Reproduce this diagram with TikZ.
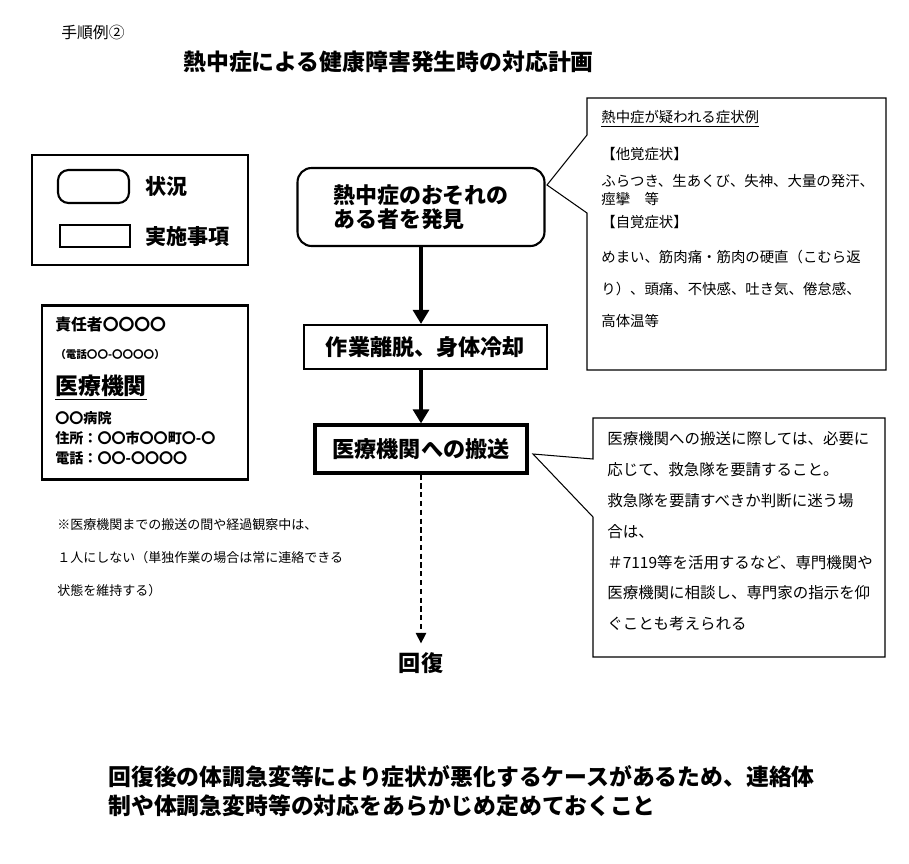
\documentclass[tikz,border=0pt]{standalone}
\usepackage{fontspec}
\setmainfont{Noto Sans CJK JP}
\usetikzlibrary{arrows.meta,positioning}
\tikzset{
  situation/.style={draw,line width=1.2pt,rounded corners=8pt,minimum width=4.94cm,minimum height=1.56cm,align=left,font=\bfseries\fontsize{12.5}{13.6}\selectfont},
  action/.style={draw,line width=1.2pt,minimum height=0.88cm,font=\bfseries\fontsize{12.6}{14}\selectfont},
  flow/.style={line width=2.8pt,-{Triangle[width=9pt,length=8pt]}},
  plain/.style={anchor=west,align=left,inner sep=0pt},
  balloon/.style={line width=0.6pt,line join=miter},
}
\begin{document}
\begin{tikzpicture}[x=0.02cm,y=-0.02cm]
  \useasboundingbox (0,0) rectangle (909,863);
  % headings
  \node[plain,font=\fontsize{9}{11}\selectfont] (step) at (61,32) {手順例②};
  \node[plain,font=\bfseries\fontsize{13}{15}\selectfont] (title) at (183,62) {熱中症による健康障害発生時の対応計画};
  % legend
  \draw[line width=0.7pt] (32,155) rectangle (248,265);
  \node[draw,line width=1.2pt,rounded corners=6pt,minimum width=1.42cm,minimum height=0.66cm] (keysit) at (93.5,186.5) {};
  \node[draw,line width=1.2pt,minimum width=1.4cm,minimum height=0.44cm] (keyact) at (95,236) {};
  \node[plain,font=\bfseries\fontsize{12}{14}\selectfont] (keysittxt) at (145,186) {状況};
  \node[plain,font=\bfseries\fontsize{12}{14}\selectfont] (keyacttxt) at (145,236) {実施事項};
  % contacts
  \draw[line width=1.7pt] (42,305) rectangle (248,479);
  \node[plain,font=\bfseries\fontsize{9}{11}\selectfont] (boss) at (55,325) {責任者〇〇〇〇};
  \node[plain,font=\bfseries\fontsize{6}{8}\selectfont] (bosstel) at (55,354) {（電話〇〇-〇〇〇〇）};
  \node[plain,font=\bfseries\fontsize{13}{15}\selectfont] (clinic) at (55,388) {\underline{医療機関}};
  \node[plain,font=\bfseries\fontsize{8}{10}\selectfont] (hosp) at (55,418) {〇〇病院};
  \node[plain,font=\bfseries\fontsize{8}{10}\selectfont] (addr) at (55,438) {住所：〇〇市〇〇町〇-〇};
  \node[plain,font=\bfseries\fontsize{8}{10}\selectfont] (tel) at (55,458) {電話：〇〇-〇〇〇〇};
  % caution
  \node[plain,font=\fontsize{7.4}{18.7}\selectfont] (caution) at (57,558) {※医療機関までの搬送の間や経過観察中は、\\１人にしない（単独作業の場合は常に連絡できる\\状態を維持する）};
  % flow
  \node[situation] (find) at (421,207) {熱中症のおそれの\\ある者を発見};
  \node[action,minimum width=4.86cm] (cool) at (425.5,347) {作業離脱、身体冷却};
  \node[action,line width=1.8pt,minimum width=4.24cm,minimum height=0.96cm] (send) at (421,449) {医療機関への搬送};
  \node[font=\bfseries\fontsize{12.6}{14}\selectfont,inner sep=5pt] (recover) at (421,663) {回復};
  \draw[flow] (find.south) -- (find.south |- cool.north);
  \draw[flow] (send.north |- cool.south) -- (send.north);
  \draw[dash pattern=on 3pt off 2pt,line width=0.8pt,-{Triangle[width=6pt,length=6pt]}] (send.south) -- (recover.north);
  % symptoms balloon
  \draw[balloon] (587,98) -- (886,98) -- (886,370) -- (587,370) -- (587,213) -- (547,185) -- (587,135) -- cycle;
  \node[plain,anchor=north west,font=\fontsize{8.2}{10.2}\selectfont] (signs) at (601,110) {\underline{熱中症が疑われる症状例}\\[10.8pt]【他覚症状】\\[5.2pt]ふらつき、生あくび、失神、大量の発汗、\\痙攣　等\\[2.9pt]【自覚症状】\\[9.7pt]めまい、筋肉痛・筋肉の硬直（こむら返\\[8pt]り）、頭痛、不快感、吐き気、倦怠感、\\[8pt]高体温等};
  % transport balloon
  \draw[balloon] (593,418) -- (885,418) -- (885,657) -- (593,657) -- (593,517) -- (533,454) -- (593,459) -- cycle;
  \node[plain,anchor=north west,font=\fontsize{8.8}{17.6}\selectfont] (advice) at (607,431) {医療機関への搬送に際しては、必要に\\応じて、救急隊を要請すること。\\救急隊を要請すべきか判断に迷う場\\合は、\\＃7119等を活用するなど、専門機関や\\医療機関に相談し、専門家の指示を仰\\ぐことも考えられる};
  % closing remark
  \node[plain,font=\bfseries\fontsize{13}{16.4}\selectfont] (remark) at (108,791) {回復後の体調急変等により症状が悪化するケースがあるため、連絡体\\制や体調急変時等の対応をあらかじめ定めておくこと};
\end{tikzpicture}
\end{document}
